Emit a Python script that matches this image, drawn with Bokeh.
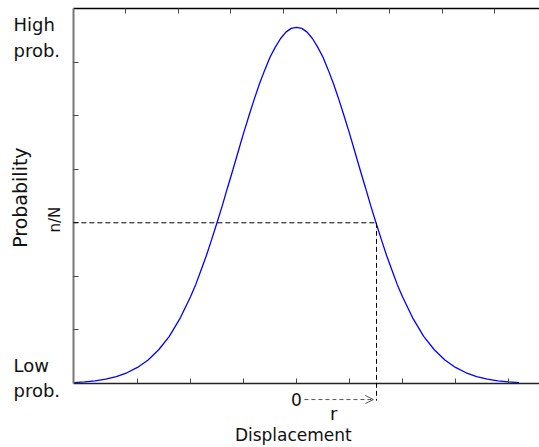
import math
from bokeh.plotting import figure
from bokeh.models import Range1d, FixedTicker, LinearAxis, Label, Arrow, OpenHead
from bokeh.embed import file_html
from bokeh.resources import INLINE

# ---- data (x: displacement in tick units, y: probability in tick units)
disp = [-4.2, -4.0, -3.8, -3.6, -3.4, -3.2, -3.0, -2.8, -2.6, -2.4, -2.2,
        -2.0, -1.9, -1.8, -1.7, -1.6, -1.5, -1.4, -1.3, -1.2, -1.1, -1.0,
        -0.9, -0.8, -0.7, -0.6, -0.5, -0.4, -0.3, -0.2, -0.1, 0.0,
        0.1, 0.2, 0.3, 0.4, 0.5, 0.6, 0.7, 0.8, 0.9, 1.0,
        1.1, 1.2, 1.3, 1.4, 1.5, 1.6, 1.7, 1.8, 1.9, 2.0,
        2.2, 2.4, 2.6, 2.8, 3.0, 3.2, 3.4, 3.6, 3.8, 4.0, 4.2]
prob = [0.015, 0.03, 0.05, 0.08, 0.13, 0.20, 0.30, 0.44, 0.63, 0.88, 1.21,
        1.62, 1.85, 2.12, 2.39, 2.69, 3.00, 3.32, 3.66, 3.99, 4.33, 4.67,
        4.99, 5.30, 5.59, 5.85, 6.09, 6.28, 6.44, 6.56, 6.63, 6.65,
        6.63, 6.56, 6.44, 6.28, 6.09, 5.85, 5.59, 5.30, 4.99, 4.67,
        4.33, 3.99, 3.66, 3.32, 3.00, 2.69, 2.39, 2.12, 1.85, 1.62,
        1.21, 0.88, 0.63, 0.44, 0.30, 0.20, 0.13, 0.08, 0.05, 0.03, 0.015]

x_ticks = [-3, -2, -1, 0, 1, 2, 3, 4]
top_ticks = [-3.23, -2.23, -1.24, -0.24, 0.76, 1.75, 2.75, 3.74]
y_ticks = [1, 2, 3, 4, 5, 6]

r_value = 1.51      # displacement r
nN_value = 3.0      # probability level n/N

# axes box of the original chart (data units)
AX_LEFT, AX_BOTTOM, AX_TOP = -4.21, 0.0, 7.0
# visible window (data units)
XR = (-5.585, 4.585)
YR = (-1.195, 7.15)
FONT = "DejaVu Sans"
TXT = "#111111"

p = figure(width=539, height=447,
           x_range=Range1d(*XR), y_range=Range1d(*YR),
           x_axis_location=None, y_axis_location=None,
           output_backend="svg", toolbar_location=None,
           min_border=0, min_border_left=0, min_border_right=0,
           min_border_top=0, min_border_bottom=0)
p.grid.visible = False
p.outline_line_color = None
p.background_fill_color = "white"
p.border_fill_color = "white"

def make_axis(loc, bounds, ticks, line_color, line_width):
    return LinearAxis(fixed_location=loc, bounds=bounds,
                      ticker=FixedTicker(ticks=[], minor_ticks=ticks),
                      major_tick_in=0, major_tick_out=0, major_label_standoff=0,
                      minor_tick_in=5, minor_tick_out=0,
                      minor_tick_line_color="#444444", minor_tick_line_width=1,
                      axis_line_color=line_color, axis_line_width=line_width)

p.add_layout(make_axis(AX_LEFT, (AX_BOTTOM, AX_TOP), y_ticks, "#777777", 2), "left")
p.add_layout(make_axis(AX_BOTTOM, (AX_LEFT, XR[1]), x_ticks, "#222222", 1.5), "below")
p.add_layout(make_axis(AX_TOP, (AX_LEFT, XR[1]), top_ticks, "#000000", 1.5), "above")

# curve
p.line(disp, prob, line_color="#0000ff", line_width=1.3)

# dashed guide lines
p.add_layout(Arrow(end=None, x_start=AX_LEFT, y_start=nN_value, x_end=r_value, y_end=nN_value,
                   line_color="black", line_width=1, line_dash="5 3"))
p.add_layout(Arrow(end=None, x_start=r_value, y_start=nN_value, x_end=r_value, y_end=-0.32,
                   line_color="black", line_width=1, line_dash="5 3"))
# r arrow
p.add_layout(Arrow(end=OpenHead(size=8, line_color="#555555", line_width=1),
                   x_start=0.15, y_start=-0.30, x_end=r_value - 0.06, y_end=-0.30,
                   line_color="#555555", line_width=1, line_dash="4 3"))

def lab(text, x, y, size="18px", angle=0.0, align="left", baseline="alphabetic"):
    p.add_layout(Label(text=text, x=x, y=y, angle=angle, text_font=FONT,
                       text_font_size=size, text_color=TXT,
                       text_align=align, text_baseline=baseline))

lab("High\nprob.", -5.34, 6.89, baseline="top")
lab("Low\nprob.", -5.34, 0.54, baseline="top")
lab("Probability", -5.21, 3.47, size="19px", angle=math.pi / 2, align="center", baseline="middle")
lab("n/N", -4.55, nN_value + 0.06, size="15px", angle=math.pi / 2, align="center", baseline="middle")
lab("0", 0.0, -0.30, size="17px", align="center", baseline="middle")
lab("r", r_value - 0.81, -0.56, align="center")
lab("Displacement", -0.06, -0.97, size="17px", align="center", baseline="middle")

open("out.html", "w").write(file_html(p, INLINE))
